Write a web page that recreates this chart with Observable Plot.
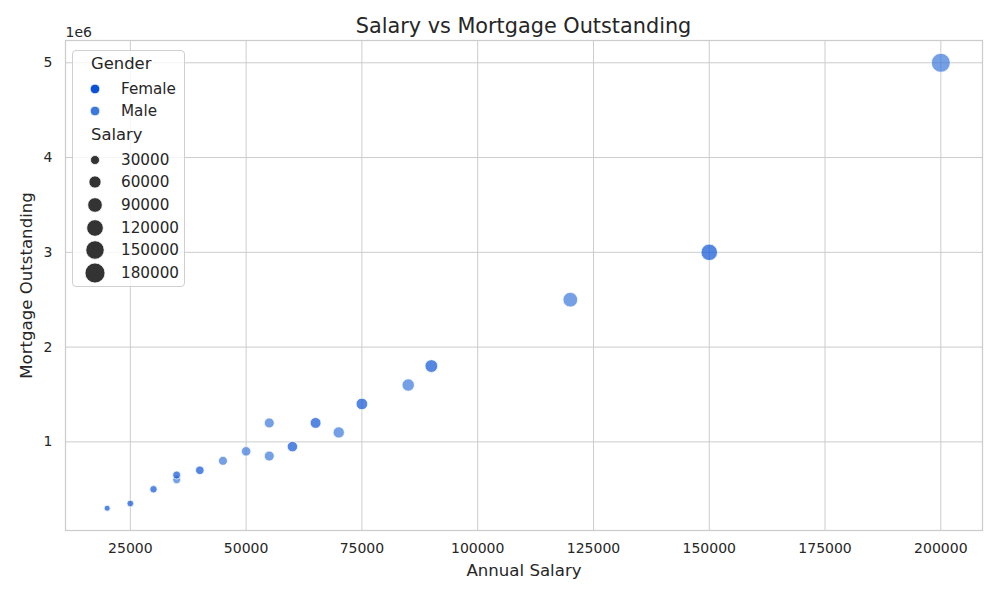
<!DOCTYPE html>
<html>
<head>
<meta charset="utf-8">
<script src="https://cdn.jsdelivr.net/npm/d3@7"></script>
<script src="https://cdn.jsdelivr.net/npm/@observablehq/plot@0.6"></script>
<style>
  html, body { margin: 0; padding: 0; background: #fff; }
  body { font-family: "DejaVu Sans", sans-serif; color: #262626; }
  #wrap { position: relative; width: 1000px; height: 600px; }
  #title { position: absolute; top: 14px; left: 65px; width: 917px; text-align: center; font-size: 20.8px; color: #262626; }
  #legend { position: absolute; left: 72px; top: 50px; width: 113px; height: 237px; background: rgba(255,255,255,0.8); border: 1px solid #d0d0d0; border-radius: 4px; box-sizing: border-box; }
  .row { position: absolute; left: 0; height: 24px; width: 100%; font-size: 15.2px; line-height: 24px; white-space: nowrap; }
  .row.head { font-size: 16.4px; padding-left: 18px; box-sizing: border-box; }
  .row svg { position: absolute; left: 9px; top: 0; }
  .row span { position: absolute; left: 48px; }
</style>
</head>
<body>
<div id="wrap">
  <div id="chart"></div>
  <div id="title">Salary vs Mortgage Outstanding</div>
  <div id="legend"></div>
</div>
<script>
// Data
const salaries  = [20000, 25000, 30000, 35000, 35000, 40000, 45000, 50000, 55000, 55000, 60000, 65000, 70000, 75000, 85000, 90000, 120000, 150000, 200000];
const mortgages = [300000, 350000, 500000, 600000, 650000, 700000, 800000, 900000, 850000, 1200000, 950000, 1200000, 1100000, 1400000, 1600000, 1800000, 2500000, 3000000, 5000000];
const genders   = ["Female", "Female", "Female", "Male", "Female", "Female", "Male", "Male", "Male", "Male", "Female", "Female", "Male", "Female", "Male", "Female", "Male", "Female", "Male"];

const genderDomain = ["Female", "Male"];
const genderColors = ["#0b52d5", "#3b78dc"];
const xTicks = [25000, 50000, 75000, 100000, 125000, 150000, 175000, 200000];
const yTicks = [1000000, 2000000, 3000000, 4000000, 5000000];
const sizeLegendValues = [30000, 60000, 90000, 120000, 150000, 180000];

const data = salaries.map((s, i) => ({salary: s, mortgage: mortgages[i], gender: genders[i]}));

const chart = Plot.plot({
  width: 1000,
  height: 600,
  marginLeft: 65,
  marginRight: 18,
  marginTop: 40,
  marginBottom: 70,
  style: {fontFamily: "DejaVu Sans, sans-serif", fontSize: "14px", color: "#262626", background: "transparent"},
  x: {domain: [11000, 209000]},
  y: {domain: [65000, 5235000]},
  r: {type: "sqrt", domain: [20000, 200000], range: [3, 9.5]},
  color: {domain: genderDomain, range: genderColors},
  marks: [
    Plot.gridX(xTicks, {stroke: "#cccccc", strokeOpacity: 1, strokeWidth: 1}),
    Plot.gridY(yTicks, {stroke: "#cccccc", strokeOpacity: 1, strokeWidth: 1}),
    Plot.frame({stroke: "#cccccc", strokeWidth: 1.25}),
    Plot.axisX(xTicks, {tickSize: 0, tickPadding: 13, tickFormat: d => String(d), label: "Annual Salary", labelAnchor: "center", labelArrow: "none", labelOffset: 45, fontSize: 14}),
    Plot.axisY(yTicks, {tickSize: 0, tickPadding: 13, tickFormat: d => String(d / 1e6), label: "Mortgage Outstanding", labelAnchor: "center", labelArrow: "none", labelOffset: 45, fontSize: 14}),
    Plot.text(["1e6"], {frameAnchor: "top-left", textAnchor: "start", dy: -13, fontSize: 14, fill: "#262626"}),
    Plot.dot(data, {x: "salary", y: "mortgage", r: "salary", fill: "gender", fillOpacity: 0.7, stroke: "white", strokeWidth: 0.75})
  ]
});

// enlarge axis labels
chart.querySelectorAll('g[aria-label="x-axis label"] text, g[aria-label="y-axis label"] text').forEach(t => { t.setAttribute("font-size", "16.6"); t.style.fontSize = "16.6px"; });
document.getElementById("chart").appendChild(chart);

// Legend built from the chart's own colour scale and a size scale for the legend markers
const cScale = chart.scale("color");
const rLegend = d3.scaleSqrt().domain([30000, 180000]).range([4.5, 10]);
const legend = document.getElementById("legend");
const rowCenters = [14, 39, 61, 85, 110, 132, 155, 178, 200, 223];
let rowIdx = 0;
function place(d) {
  d.style.top = (rowCenters[rowIdx++] - 12 - 1) + "px";
  legend.appendChild(d);
}
function head(txt) {
  const d = document.createElement("div");
  d.className = "row head";
  d.textContent = txt;
  place(d);
}
function item(label, r, fill) {
  const d = document.createElement("div");
  d.className = "row";
  const ns = "http://www.w3.org/2000/svg";
  const svg = document.createElementNS(ns, "svg");
  svg.setAttribute("width", 26); svg.setAttribute("height", 24);
  const c = document.createElementNS(ns, "circle");
  c.setAttribute("cx", 13); c.setAttribute("cy", 12); c.setAttribute("r", r);
  c.setAttribute("fill", fill); c.setAttribute("stroke", "white"); c.setAttribute("stroke-width", 0.75);
  svg.appendChild(c);
  d.appendChild(svg);
  const s = document.createElement("span");
  s.textContent = label;
  d.appendChild(s);
  place(d);
}
head("Gender");
genderDomain.forEach(g => item(g, 4.8, cScale.apply(g)));
head("Salary");
sizeLegendValues.forEach(v => item(String(v), rLegend(v), "#333333"));
</script>
</body>
</html>
